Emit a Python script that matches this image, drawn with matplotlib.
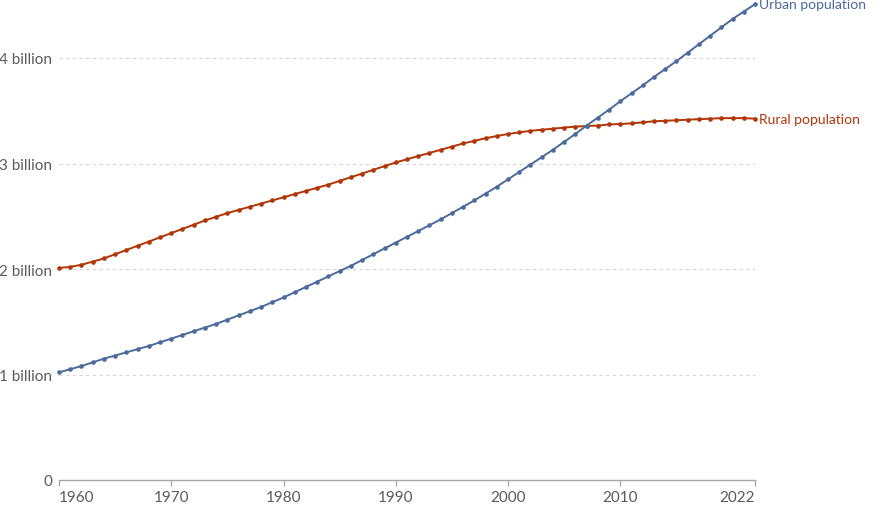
import numpy as np
import matplotlib.pyplot as plt

years = list(range(1960, 2023))

# billions
urban = [1.02, 1.05, 1.08, 1.115, 1.15, 1.18, 1.21, 1.24, 1.27, 1.305,
         1.34, 1.375, 1.41, 1.445, 1.48, 1.52, 1.56, 1.60, 1.64, 1.685,
         1.73, 1.78, 1.83, 1.88, 1.93, 1.98, 2.03, 2.085, 2.14, 2.195,
         2.25, 2.305, 2.36, 2.415, 2.47, 2.53, 2.59, 2.65, 2.715, 2.78,
         2.85, 2.92, 2.99, 3.06, 3.13, 3.205, 3.28, 3.36, 3.435, 3.51,
         3.59, 3.665, 3.74, 3.82, 3.895, 3.97, 4.05, 4.13, 4.21, 4.29,
         4.37, 4.44, 4.51]
rural = [2.01, 2.02, 2.04, 2.07, 2.10, 2.14, 2.18, 2.22, 2.26, 2.30,
         2.34, 2.38, 2.42, 2.46, 2.495, 2.53, 2.56, 2.59, 2.62, 2.65,
         2.68, 2.71, 2.74, 2.77, 2.80, 2.835, 2.87, 2.905, 2.94, 2.975,
         3.01, 3.04, 3.07, 3.10, 3.13, 3.16, 3.19, 3.215, 3.24, 3.26,
         3.28, 3.295, 3.31, 3.32, 3.33, 3.34, 3.35, 3.355, 3.36, 3.37,
         3.375, 3.38, 3.39, 3.40, 3.405, 3.41, 3.415, 3.42, 3.425, 3.43,
         3.43, 3.43, 3.425]

x_ticks = [1960, 1970, 1980, 1990, 2000, 2010, 2022]
y_ticks = [0, 1, 2, 3, 4]
y_labels = ['0', '1 billion', '2 billion', '3 billion', '4 billion']

urban_color = '#4C6A9C'
rural_color = '#B13507'
text_color = '#5b5b5b'

plt.rcParams['font.family'] = ['Lato', 'DejaVu Sans']

W, H = 877, 506
fig = plt.figure(figsize=(W / 100, H / 100), dpi=100)
ax = fig.add_axes([59 / W, 25 / H, 696 / W, 481 / H])

ax.plot(years, rural, color=rural_color, linewidth=1.4, marker='o',
        markersize=2.3, clip_on=False, zorder=3)
ax.plot(years, urban, color=urban_color, linewidth=1.4, marker='o',
        markersize=2.3, clip_on=False, zorder=3)

ax.set_xlim(1960, 2022)
ax.set_ylim(0, 481 / 105.5)

ax.set_yticks(y_ticks)
ax.set_yticklabels(y_labels)
ax.set_xticks(x_ticks)
ax.set_xticklabels([str(y) for y in x_ticks])
xlabels = ax.get_xticklabels()
xlabels[0].set_horizontalalignment('left')
xlabels[-1].set_horizontalalignment('right')

for y in y_ticks[1:]:
    ax.axhline(y, color='#d6d6d6', linewidth=0.8, linestyle=(0, (3, 3)), zorder=1)

for s in ['top', 'right', 'left']:
    ax.spines[s].set_visible(False)
ax.spines['bottom'].set_color('#a8a8a8')
ax.spines['bottom'].set_linewidth(1)

ax.tick_params(axis='y', length=0, pad=5, labelsize=11, labelcolor=text_color)
ax.tick_params(axis='x', length=4, width=1, color='#a8a8a8', pad=3,
               labelsize=11, labelcolor=text_color)

ax.text(2022.4, urban[-1], 'Urban population', color=urban_color,
        fontsize=10, va='center', ha='left', clip_on=False)
ax.text(2022.4, rural[-1], 'Rural population', color=rural_color,
        fontsize=10, va='center', ha='left', clip_on=False)

fig.savefig('out.png', dpi=100)
